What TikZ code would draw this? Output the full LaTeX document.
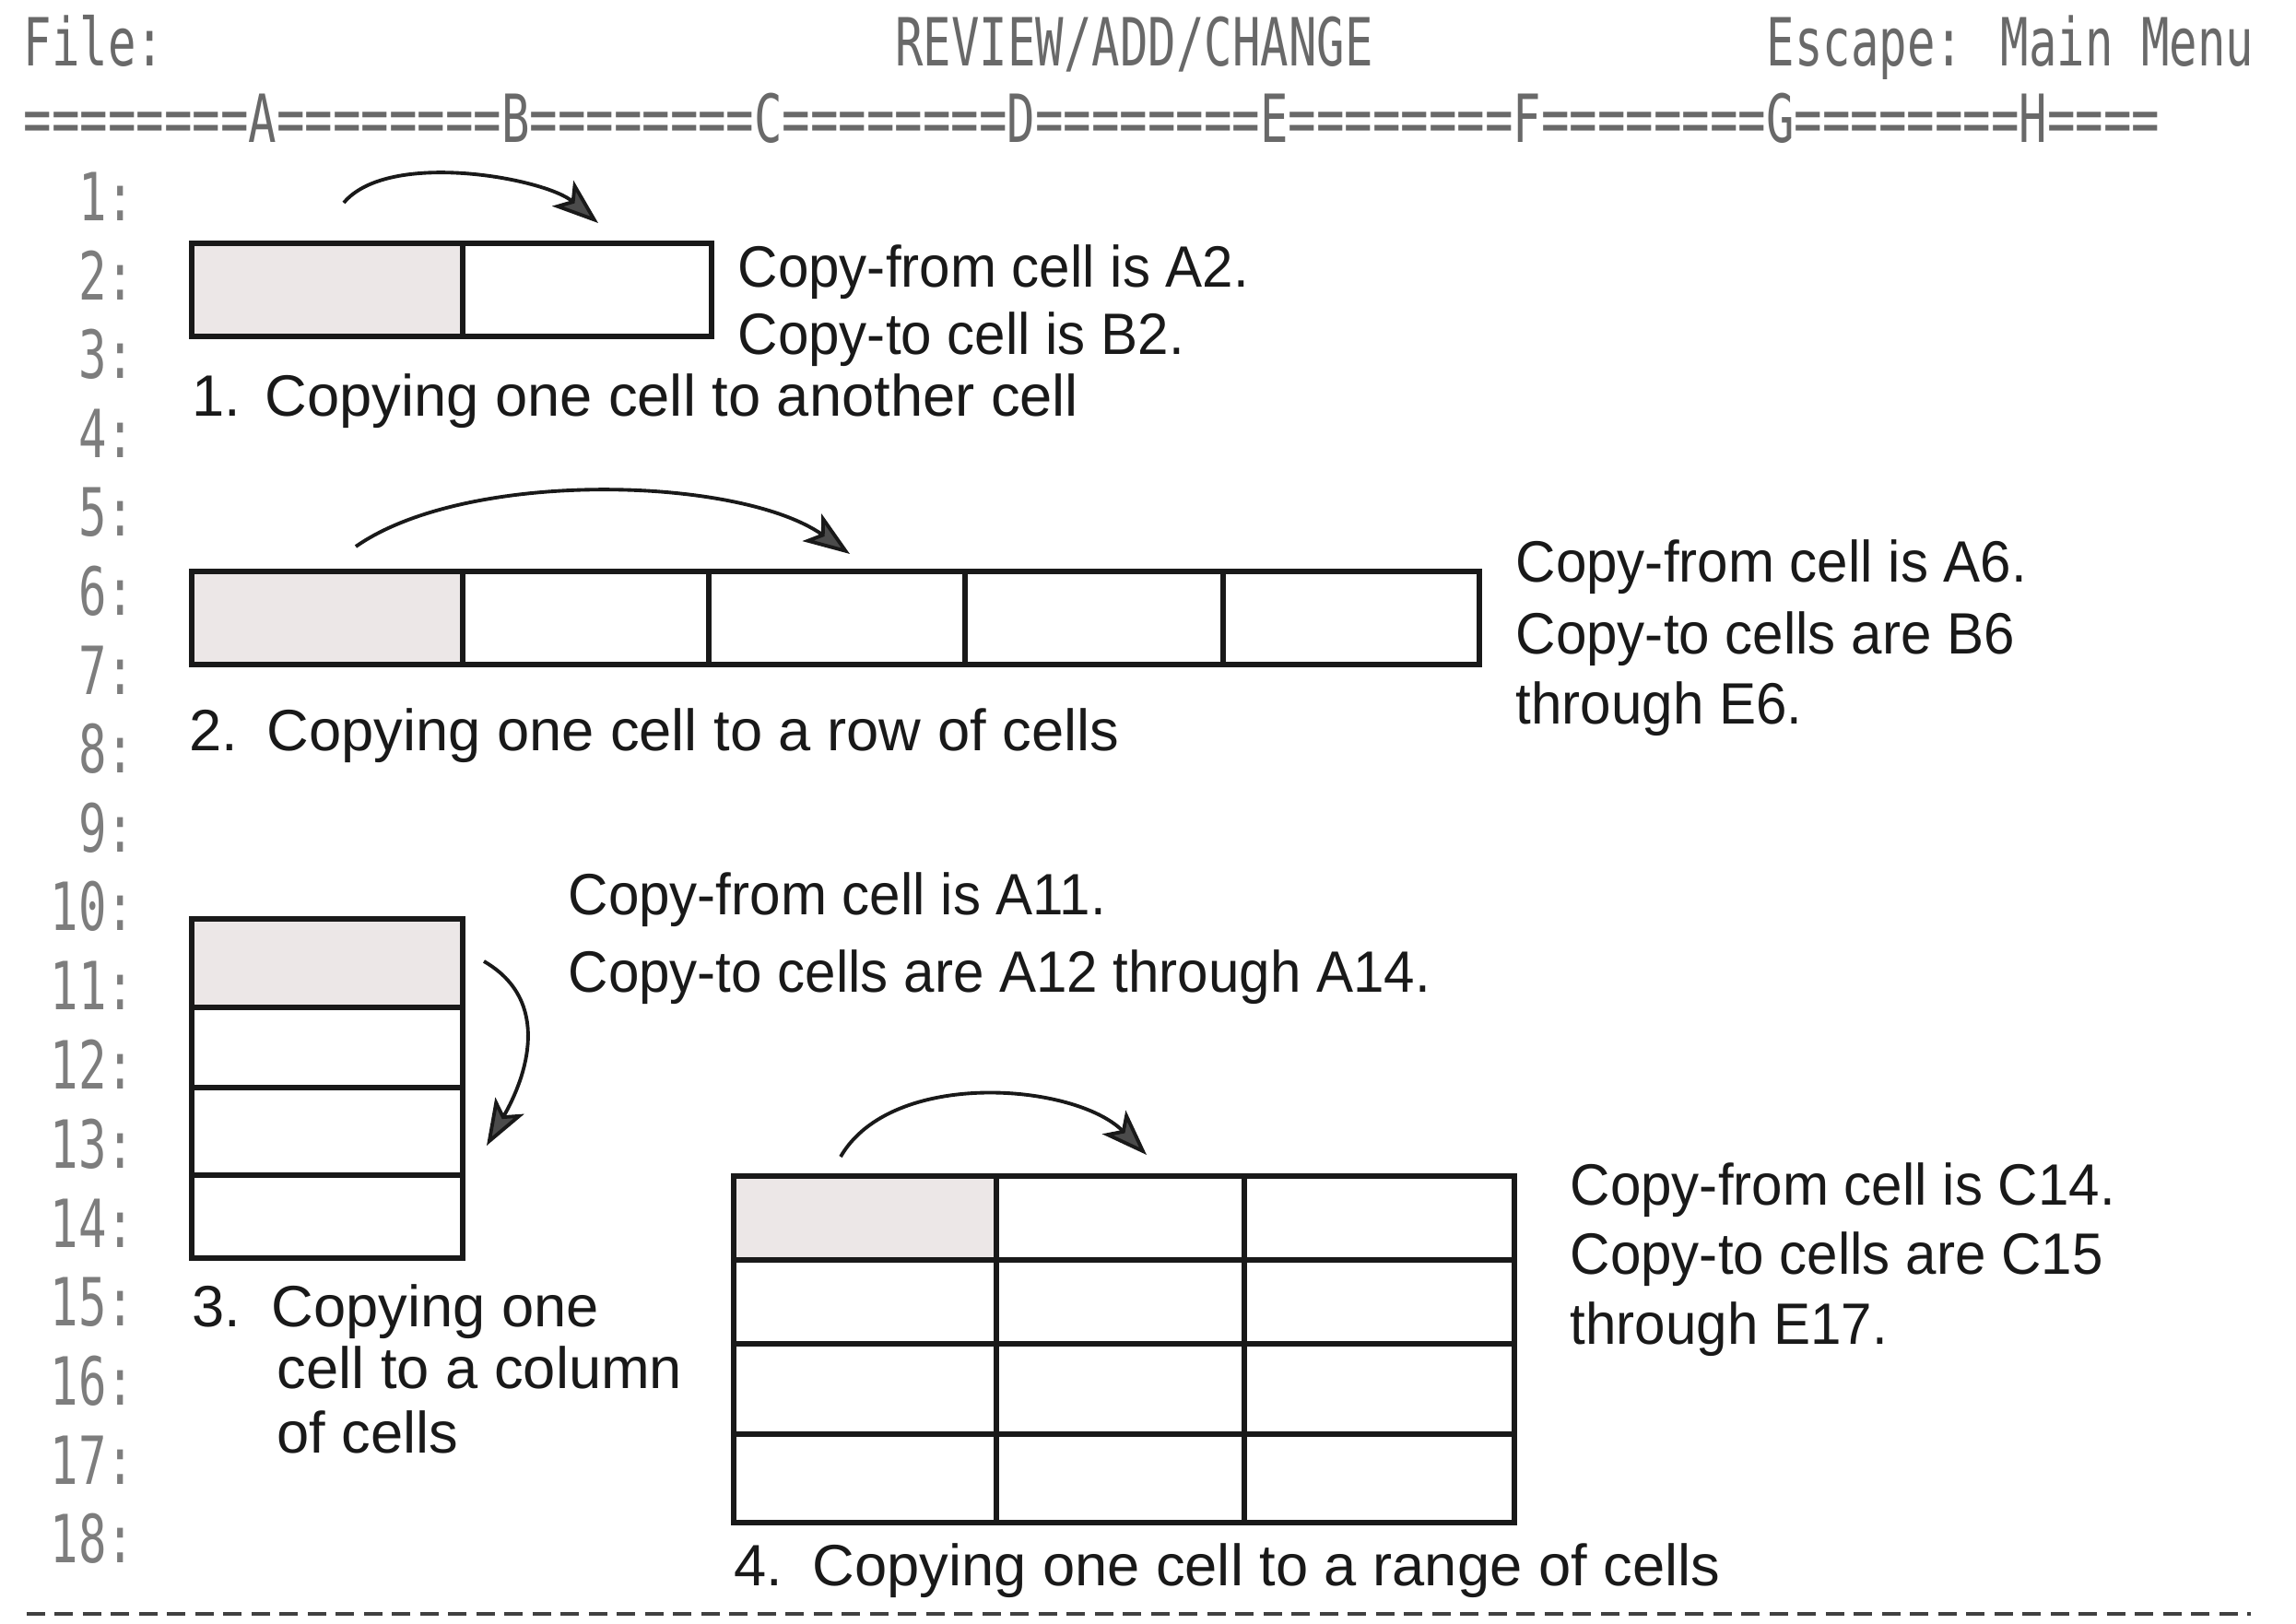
\documentclass[tikz,border=0pt]{standalone}
\usepackage{fontspec}
\setmainfont{Liberation Sans}
\newfontfamily\descfont[FakeStretch=0.95]{Liberation Sans}
\newfontfamily\screenfont[FakeStretch=0.703]{DejaVu Sans Mono}
\usetikzlibrary{arrows.meta}
\definecolor{ink}{RGB}{25,25,25}
\definecolor{scrgray}{RGB}{105,105,105}
\definecolor{rowgray}{RGB}{125,125,125}
\definecolor{cellshade}{RGB}{236,231,231}
\definecolor{tipgray}{RGB}{75,75,75}
\tikzset{
  cell/.style={
    draw=ink,
    line width=1.8pt,
    anchor=north west,
    inner sep=0pt,
    outer sep=0pt,
    minimum height=1.01cm
  },
  fromcell/.style={cell, fill=cellshade},
  copyarrow/.style={-{Stealth[length=5mm,width=3.6mm,inset=1.2mm,fill=tipgray]}, line width=1.1pt, draw=ink},
  caption/.style={anchor=base west, inner sep=0pt, font=\fontsize{18}{21}\selectfont, text=ink},
  desc/.style={anchor=base west, inner sep=0pt, font=\descfont\fontsize{18}{21}\selectfont, text=ink},
  screen/.style={anchor=base west, inner sep=0pt, font=\screenfont\fontsize{20.5}{22}\selectfont, text=scrgray},
  rownum/.style={anchor=base east, inner sep=0pt, font=\screenfont\fontsize{20.5}{22}\selectfont, text=rowgray},
  screenrule/.style={draw=black!75, line width=1.3pt, dash pattern=on 0.2cm off 0.105cm}
}

\begin{document}
\begin{tikzpicture}
    \useasboundingbox (0,0) rectangle (24.91,-17.62);

    % screen header and ruler
    \node[screen] (filelbl) at (0.25,-0.72) {File:};
    \node[screen] (modelbl) at (9.705,-0.72) {REVIEW/ADD/CHANGE};
    \node[screen] (esclbl) at (19.16,-0.72) {Escape: Main Menu};
    \node[screen] (colruler) at (0.25,-1.55) {========A========B========C========D========E========F========G========H====};

    % row numbers
    \node[rownum] (r1) at (1.47,-2.40) {1:};
    \node[rownum] (r2) at (1.47,-3.26) {2:};
    \node[rownum] (r3) at (1.47,-4.11) {3:};
    \node[rownum] (r4) at (1.47,-4.97) {4:};
    \node[rownum] (r5) at (1.47,-5.82) {5:};
    \node[rownum] (r6) at (1.47,-6.68) {6:};
    \node[rownum] (r7) at (1.47,-7.54) {7:};
    \node[rownum] (r8) at (1.47,-8.39) {8:};
    \node[rownum] (r9) at (1.47,-9.25) {9:};
    \node[rownum] (r10) at (1.47,-10.10) {10:};
    \node[rownum] (r11) at (1.47,-10.96) {11:};
    \node[rownum] (r12) at (1.47,-11.82) {12:};
    \node[rownum] (r13) at (1.47,-12.67) {13:};
    \node[rownum] (r14) at (1.47,-13.53) {14:};
    \node[rownum] (r15) at (1.47,-14.38) {15:};
    \node[rownum] (r16) at (1.47,-15.24) {16:};
    \node[rownum] (r17) at (1.47,-16.10) {17:};
    \node[rownum] (r18) at (1.47,-16.95) {18:};

    % 1. one cell to another
    \node[fromcell, minimum width=2.94cm] (a2) at (2.08,-2.64) {};
    \node[cell, minimum width=2.70cm] (b2) at (5.02,-2.64) {};
    \coordinate (cp1s) at (3.73,-2.20);
    \coordinate (cp1e) at (6.49,-2.42);
    \draw[copyarrow] (cp1s) to[out=50, in=140, looseness=0.7] (cp1e);
    \node[desc] (from1) at (8.00,-3.12) {Copy-from cell is A2.};
    \node[desc] (to1) at (8.00,-3.85) {Copy-to cell is B2.};
    \node[caption] (cap1) at (2.08,-4.52) {1.\hspace{0.26cm}Copying one cell to another cell};

    % 2. one cell to a row
    \node[fromcell, minimum width=2.94cm] (a6) at (2.08,-6.20) {};
    \node[cell, minimum width=2.67cm] (b6) at (5.02,-6.20) {};
    \node[cell, minimum width=2.78cm] (c6) at (7.69,-6.20) {};
    \node[cell, minimum width=2.80cm] (d6) at (10.47,-6.20) {};
    \node[cell, minimum width=2.78cm] (e6) at (13.27,-6.20) {};
    \coordinate (cp2s) at (3.86,-5.93);
    \coordinate (cp2e) at (9.22,-6.01);
    \draw[copyarrow] (cp2s) to[out=35, in=145, looseness=0.7] (cp2e);
    \node[desc] (from2) at (16.44,-6.32) {Copy-from cell is A6.};
    \node[desc] (to2) at (16.44,-7.10) {Copy-to cells are B6};
    \node[desc] (to2b) at (16.44,-7.86) {through E6.};
    \node[caption] (cap2) at (2.05,-8.15) {2.\hspace{0.31cm}Copying one cell to a row of cells};

    % 3. one cell to a column
    \node[fromcell, minimum width=2.94cm, minimum height=0.96cm] (a11) at (2.08,-9.97) {};
    \node[cell, minimum width=2.94cm, minimum height=0.87cm] (a12) at (2.08,-10.93) {};
    \node[cell, minimum width=2.94cm, minimum height=0.95cm] (a13) at (2.08,-11.80) {};
    \node[cell, minimum width=2.94cm, minimum height=0.90cm] (a14) at (2.08,-12.75) {};
    \coordinate (cp3s) at (5.25,-10.43);
    \coordinate (cp3e) at (5.28,-12.43);
    \draw[copyarrow] (cp3s) to[out=-30, in=60, looseness=1.1] (cp3e);
    \node[desc] (from3) at (6.16,-9.93) {Copy-from cell is A11.};
    \node[desc] (to3) at (6.16,-10.76) {Copy-to cells are A12 through A14.};
    \node[caption] (cap3) at (2.08,-14.39) {3.\hspace{0.33cm}Copying one};
    \node[caption] (cap3b) at (3.00,-15.06) {cell to a column};
    \node[caption] (cap3c) at (3.00,-15.76) {of cells};

    % 4. one cell to a range
    \node[fromcell, minimum width=2.85cm, minimum height=0.91cm] (c14) at (7.96,-12.76) {};
    \node[cell, minimum width=2.69cm, minimum height=0.91cm] (d14) at (10.81,-12.76) {};
    \node[cell, minimum width=2.93cm, minimum height=0.91cm] (e14) at (13.50,-12.76) {};
    \node[cell, minimum width=2.85cm, minimum height=0.91cm] (c15) at (7.96,-13.67) {};
    \node[cell, minimum width=2.69cm, minimum height=0.91cm] (d15) at (10.81,-13.67) {};
    \node[cell, minimum width=2.93cm, minimum height=0.91cm] (e15) at (13.50,-13.67) {};
    \node[cell, minimum width=2.85cm, minimum height=0.98cm] (c16) at (7.96,-14.58) {};
    \node[cell, minimum width=2.69cm, minimum height=0.98cm] (d16) at (10.81,-14.58) {};
    \node[cell, minimum width=2.93cm, minimum height=0.98cm] (e16) at (13.50,-14.58) {};
    \node[cell, minimum width=2.85cm, minimum height=0.96cm] (c17) at (7.96,-15.56) {};
    \node[cell, minimum width=2.69cm, minimum height=0.96cm] (d17) at (10.81,-15.56) {};
    \node[cell, minimum width=2.93cm, minimum height=0.96cm] (e17) at (13.50,-15.56) {};
    \coordinate (cp4s) at (9.12,-12.55);
    \coordinate (cp4e) at (12.44,-12.53);
    \draw[copyarrow] (cp4s) to[out=60, in=135, looseness=0.85] (cp4e);
    \node[desc] (from4) at (17.03,-13.07) {Copy-from cell is C14.};
    \node[desc] (to4) at (17.03,-13.82) {Copy-to cells are C15};
    \node[desc] (to4b) at (17.03,-14.58) {through E17.};
    \node[caption] (cap4) at (7.96,-17.20) {4.\hspace{0.32cm}Copying one cell to a range of cells};

    % screen bottom rule
    \coordinate (rulel) at (0.29,-17.51);
    \coordinate (ruler) at (24.42,-17.51);
    \draw[screenrule] (rulel) -- (ruler);
  \end{tikzpicture}
\end{document}
